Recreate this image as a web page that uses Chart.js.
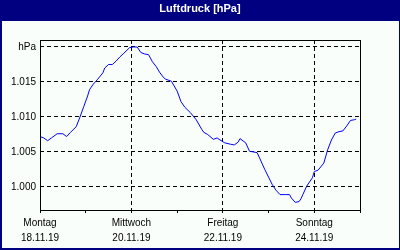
<!DOCTYPE html>
<html><head><meta charset="utf-8">
<script src="https://cdn.jsdelivr.net/npm/chart.js@4"></script>
<style>html,body{margin:0;padding:0;background:#000080}#w{width:400px;height:250px}</style>
</head><body><div id="w"><canvas id="c" width="400" height="250"></canvas></div>
<script>
const chartTitle = 'Luftdruck [hPa]';
// hours since Monday 18.11.19 00:00
const hours = [0,2,4,6,9,12,14,16,19,21,23,25,26,28,30,33,34,36,38,40,42,44,47,49,51,53,55,57,59,61,63,65,66,69,72,74,76,79,82,85,86,88,91,93,94,97,100,102,104,105,108,110,114,116,118,120,122,124,126,129,131,132,134,136,137,138,140,143,144,146,149,151,153,155,157,159,161,163,165,166];
const pressure = [1007.2,1007.0,1006.6,1007.0,1007.6,1007.6,1007.2,1007.8,1008.6,1010.0,1011.5,1013.0,1013.9,1014.7,1015.3,1016.3,1017.0,1017.5,1017.5,1018.0,1018.6,1019.1,1019.9,1020.0,1020.0,1019.2,1019.0,1018.9,1017.9,1017.2,1016.3,1015.6,1015.4,1015.1,1013.7,1012.2,1011.4,1010.6,1009.6,1008.2,1007.8,1007.5,1006.8,1007.0,1006.8,1006.3,1006.1,1006.0,1006.4,1006.9,1006.3,1005.1,1004.9,1003.7,1002.5,1001.4,1000.3,999.5,998.9,998.9,998.9,998.4,997.8,997.9,998.3,998.9,1000.1,1001.3,1002.2,1002.4,1003.4,1005.3,1006.7,1007.7,1007.9,1008.0,1008.7,1009.5,1009.6,1009.7];
const yTickValues = [1000,1005,1010,1015,1020];
const yTickLabels = ['1.000','1.005','1.010','1.015','hPa'];
const xTickValues = [0,24,48,72,96,120,144,168];
const dayNames = ['Montag','','Mittwoch','','Freitag','','Sonntag',''];
const dates = ['18.11.19','','20.11.19','','22.11.19','','24.11.19',''];
const gridDays = [48,96,144];

const FONT = 'Liberation Sans';

const framePlugin = {
  id: 'frame',
  beforeDraw(chart) {
    const ctx = chart.ctx;
    ctx.save();
    ctx.fillStyle = '#000080';
    ctx.fillRect(0, 0, 400, 250);
    ctx.fillStyle = '#FAFEFA';
    ctx.fillRect(2, 21, 397, 227);
    ctx.restore();
  },
  afterDraw(chart) {
    const {ctx, chartArea: a} = chart;
    ctx.save();
    ctx.strokeStyle = '#000';
    ctx.lineWidth = 1;
    ctx.strokeRect(a.left + 0.5, a.top + 0.5, a.right - a.left, a.bottom - a.top);
    ctx.restore();
  }
};

new Chart(document.getElementById('c'), {
  type: 'line',
  data: {
    datasets: [{
      data: hours.map((h, i) => ({x: h, y: pressure[i]})),
      borderColor: '#0000FF',
      borderWidth: 1,
      pointRadius: 0,
      tension: 0,
      fill: false
    }]
  },
  options: {
    responsive: false,
    animation: false,
    devicePixelRatio: 1,
    layout: {padding: 0},
    plugins: {
      legend: {display: false},
      tooltip: {enabled: false},
      title: {
        display: true,
        text: chartTitle,
        color: '#FFFFFF',
        font: {family: FONT, size: 11, weight: 'bold', lineHeight: 1.2},
        padding: {top: 2, bottom: 24.8}
      }
    },
    scales: {
      x: {
        type: 'linear',
        min: 0, max: 168,
        afterBuildTicks: s => { s.ticks = xTickValues.map(v => ({value: v})); },
        afterFit: s => { s.height = 40; },
        border: {display: false, dash: [4, 3]},
        grid: {
          color: c => (c.tick && gridDays.includes(c.tick.value)) ? '#000000' : 'rgba(0,0,0,0)',
          tickColor: '#000000',
          tickLength: 3,
          tickBorderDash: [],
          lineWidth: 1
        },
        ticks: {
          autoSkip: false, maxRotation: 0, padding: 3,
          color: '#000000',
          font: {family: FONT, size: 10, lineHeight: 1.5},
          callback: (v) => { const i = xTickValues.indexOf(v); return (i >= 0 && dayNames[i]) ? [dayNames[i], dates[i]] : ''; }
        }
      },
      y: {
        type: 'linear',
        position: 'left',
        min: 996.7, max: 1021,
        afterBuildTicks: s => { s.ticks = yTickValues.map(v => ({value: v})); },
        afterFit: s => { s.width = 40; },
        border: {display: false, dash: [4, 3]},
        grid: {color: '#000000', lineWidth: 1, drawTicks: false},
        ticks: {
          padding: 4,
          color: '#000000',
          font: {family: FONT, size: 10},
          callback: (v) => { const i = yTickValues.indexOf(v); return i >= 0 ? yTickLabels[i] : ''; }
        }
      },
      yRight: {
        type: 'linear',
        position: 'right',
        min: 996.7, max: 1021,
        afterFit: s => { s.width = 40; },
        border: {display: false},
        grid: {display: false},
        ticks: {display: false}
      }
    }
  },
  plugins: [framePlugin]
});
</script>
</body></html>
